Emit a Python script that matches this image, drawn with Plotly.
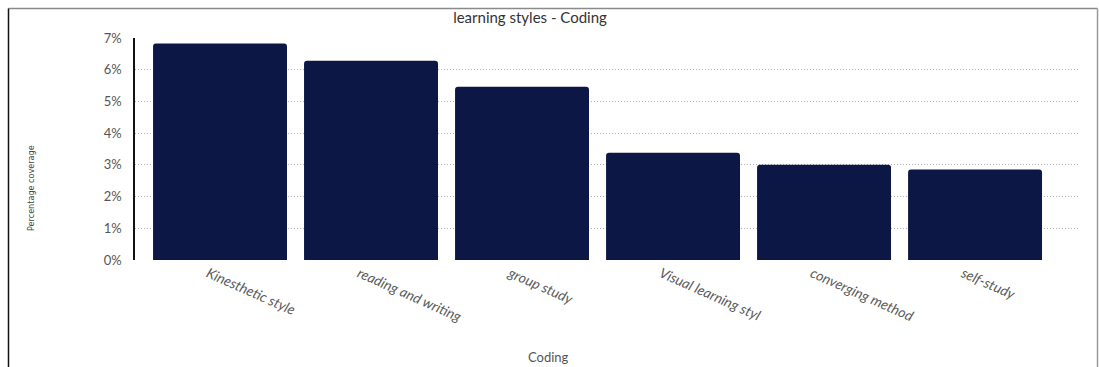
import plotly.graph_objects as go

# Learning styles coverage for the "Coding" node
categories = [
    "Kinesthetic style",
    "reading and writing",
    "group study",
    "Visual learning styl",
    "converging method",
    "self-study",
]
coverage_pct = [6.83, 6.28, 5.46, 3.38, 3.0, 2.85]
tick_values = [0, 1, 2, 3, 4, 5, 6, 7]
tick_labels = ["0%", "1%", "2%", "3%", "4%", "5%", "6%", "7%"]

BAR_COLOR = "#0d1745"

fig = go.Figure(
    go.Bar(
        x=categories,
        y=coverage_pct,
        marker=dict(color=BAR_COLOR, cornerradius=3, line=dict(width=0)),
        width=0.887,
        hovertemplate="%{x}: %{y:.2f}%<extra></extra>",
    )
)

# Plot-area geometry in pixels
L, R, T, B = 135, 19, 38, 107
W, H = 1099, 367
pw, ph = W - L - R, H - T - B


def px_x(p):
    return (p - L) / pw


def px_y(p):
    return (H - B - p) / ph


# Frame lines around the chart panel (top, left, right)
frame = [
    dict(x0=px_x(8.5), x1=px_x(1097.5), y0=px_y(8.5), y1=px_y(8.5), color="#8a8a8a"),
    dict(x0=px_x(8.5), x1=px_x(8.5), y0=px_y(8.5), y1=px_y(367), color="#111111"),
    dict(x0=px_x(1097.5), x1=px_x(1097.5), y0=px_y(8.5), y1=px_y(367), color="#9a9a9a"),
]
shapes = [
    dict(
        type="line", xref="paper", yref="paper",
        x0=f["x0"], x1=f["x1"], y0=f["y0"], y1=f["y1"],
        line=dict(color=f["color"], width=1.5),
    )
    for f in frame
]

annotations = [
    # x-axis title
    dict(
        text="Coding", xref="paper", yref="paper",
        x=px_x(548), y=px_y(357), xanchor="center", yanchor="middle",
        showarrow=False,
        font=dict(family="Lato", size=13, color="#555555"),
    ),
    # y-axis title
    dict(
        text="Percentage coverage", xref="paper", yref="paper",
        x=px_x(31), y=px_y(188), xanchor="center", yanchor="middle",
        textangle=-90, showarrow=False,
        font=dict(family="DejaVu Sans Condensed", size=9, color="#444444"),
    ),
]

fig.update_layout(
    width=W,
    height=H,
    margin=dict(l=L, r=R, t=T, b=B, pad=0),
    paper_bgcolor="white",
    plot_bgcolor="white",
    showlegend=False,
    bargap=0.113,
    shapes=shapes,
    annotations=annotations,
    title=dict(
        text="learning styles - Coding",
        x=530 / W,
        xanchor="center",
        y=1 - 18 / H,
        yanchor="middle",
        font=dict(family="Lato", size=15, color="#333333"),
    ),
    xaxis=dict(
        range=[-0.563, 5.695],
        tickangle=24,
        showgrid=False,
        showline=False,
        ticks="",
        ticklabelshift=-12,
        ticklabelstandoff=2,
        tickfont=dict(family="Lato", size=14, color="#5a5a5a", style="italic"),
    ),
    yaxis=dict(
        range=[0, 7.0],
        tickvals=tick_values,
        ticktext=tick_labels,
        showgrid=True,
        gridcolor="#b0b0b0",
        griddash="1px,2px",
        gridwidth=1,
        zeroline=False,
        showline=True,
        linecolor="#111111",
        linewidth=1.5,
        ticks="",
        ticklabelstandoff=9,
        tickfont=dict(family="Lato", size=13, color="#555555"),
    ),
)

fig.write_html("out.html")
